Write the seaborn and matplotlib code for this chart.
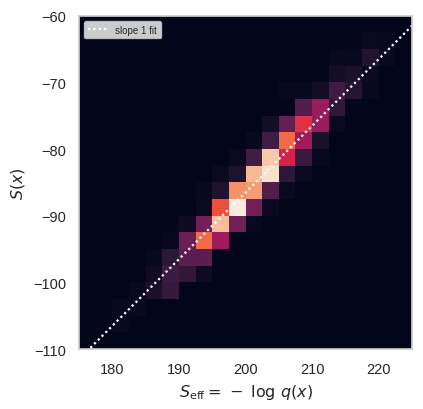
import matplotlib
matplotlib.use("Agg")
import matplotlib.pyplot as plt
import numpy as np
import seaborn as sns

sns.set_theme(style="whitegrid")
plt.rcParams["font.family"] = ["Liberation Sans", "DejaVu Sans"]
plt.rcParams["mathtext.fontset"] = "dejavusans"

# bin centres (x: S_eff, y: S(x)), bin width 2.5
x_centers = [176.25, 178.75, 181.25, 183.75, 186.25, 188.75, 191.25, 193.75, 196.25, 198.75,
             201.25, 203.75, 206.25, 208.75, 211.25, 213.75, 216.25, 218.75, 221.25, 223.75]
y_centers = [-61.25, -63.75, -66.25, -68.75, -71.25, -73.75, -76.25, -78.75, -81.25, -83.75,
             -86.25, -88.75, -91.25, -93.75, -96.25, -98.75, -101.25, -103.75, -106.25, -108.75]

# relative counts, rows from top (y=-60) to bottom, columns left to right
counts = [
    [0, 0, 0, 0, 0, 0, 0, 0, 0, 0, 0, 0, 0, 0, 0, 0, 0, 1, 1, 0],
    [0, 0, 0, 0, 0, 0, 0, 0, 0, 0, 0, 0, 0, 0, 0, 0, 1, 3, 2, 0],
    [0, 0, 0, 0, 0, 0, 0, 0, 0, 0, 0, 0, 0, 0, 0, 2, 2, 9, 2, 0],
    [0, 0, 0, 0, 0, 0, 0, 0, 0, 0, 0, 0, 0, 0, 1, 5, 7, 3, 0, 0],
    [0, 0, 0, 0, 0, 0, 0, 0, 0, 0, 0, 0, 2, 2, 5, 17, 10, 2, 0, 0],
    [0, 0, 0, 0, 0, 0, 0, 0, 0, 0, 0, 0, 1, 21, 38, 13, 1, 0, 0, 0],
    [0, 0, 0, 0, 0, 0, 0, 0, 0, 0, 0, 5, 26, 57, 39, 3, 0, 0, 0, 0],
    [0, 0, 0, 0, 0, 0, 0, 0, 0, 0, 2, 17, 69, 40, 7, 0, 0, 0, 0, 0],
    [0, 0, 0, 0, 0, 0, 0, 0, 0, 3, 17, 91, 53, 15, 2, 0, 0, 0, 0, 0],
    [0, 0, 0, 0, 0, 0, 0, 0, 3, 8, 87, 97, 12, 3, 0, 0, 0, 0, 0, 0],
    [0, 0, 0, 0, 0, 0, 0, 2, 8, 77, 80, 21, 3, 0, 0, 0, 0, 0, 0, 0],
    [0, 0, 0, 0, 0, 0, 0, 3, 63, 100, 30, 3, 0, 0, 0, 0, 0, 0, 0, 0],
    [0, 0, 0, 0, 0, 0, 4, 30, 88, 30, 2, 0, 0, 0, 0, 0, 0, 0, 0, 0],
    [0, 0, 0, 0, 0, 2, 27, 69, 40, 1, 0, 0, 0, 0, 0, 0, 0, 0, 0, 0],
    [0, 0, 0, 0, 2, 12, 24, 24, 1, 0, 0, 0, 0, 0, 0, 0, 0, 0, 0, 0],
    [0, 0, 0, 0, 4, 16, 13, 4, 0, 0, 0, 0, 0, 0, 0, 0, 0, 0, 0, 0],
    [0, 0, 0, 2, 7, 14, 0, 0, 0, 0, 0, 0, 0, 0, 0, 0, 0, 0, 0, 0],
    [0, 0, 2, 2, 0, 0, 0, 0, 0, 0, 0, 0, 0, 0, 0, 0, 0, 0, 0, 0],
    [0, 1, 2, 0, 0, 0, 0, 0, 0, 0, 0, 0, 0, 0, 0, 0, 0, 0, 0, 0],
    [0, 0, 0, 0, 0, 0, 0, 0, 0, 0, 0, 0, 0, 0, 0, 0, 0, 0, 0, 0],
]

fit_slope = 1.0
fit_intercept = -286.5

xx, yy = np.meshgrid(x_centers, y_centers)
w = np.array(counts, dtype=float)

fig = plt.figure(figsize=(4.23, 4.10), dpi=100)
ax = fig.add_axes([0.187, 0.146, 0.787, 0.813])

sns.histplot(x=xx.ravel(), y=yy.ravel(), weights=w.ravel(),
             binwidth=2.5, binrange=((175, 225), (-110, -60)),
             cmap="rocket", thresh=None, vmin=0, ax=ax)

fx = np.array([175, 225])
ax.plot(fx, fit_slope * fx + fit_intercept, color="white", lw=1.6,
        linestyle=(0, (1, 1.4)), label="slope 1 fit")

ax.grid(False)
ax.set_xlim(175, 225)
ax.set_ylim(-110, -60)
ax.set_xticks([180, 190, 200, 210, 220])
ax.set_yticks([-110, -100, -90, -80, -70, -60])
ax.tick_params(labelsize=10.5)
ax.set_xlabel(r"$S_{\rm eff} = \,-\;\log\,q(x)$", fontsize=11.5)
ax.set_ylabel(r"$S(x)$", fontsize=11.5)
ax.legend(loc="upper left", fontsize=7)

fig.savefig("out.png", dpi=100)
